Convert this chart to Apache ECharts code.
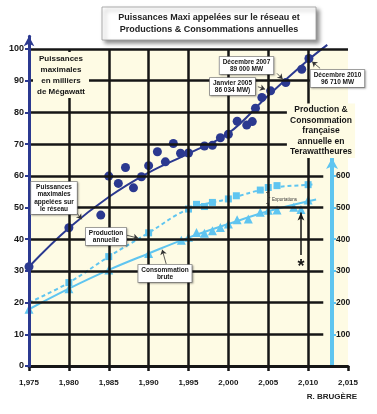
<!DOCTYPE html>
<html>
<head>
<meta charset="utf-8">
<script src="https://cdn.jsdelivr.net/npm/echarts@6/dist/echarts.min.js"></script>
<style>
  html, body { margin: 0; padding: 0; background: #fff; }
  #chart { width: 377px; height: 414px; }
</style>
</head>
<body>
<div id="chart"></div>
<script>
// Puissances maxi appelées sur le réseau (milliers de MW)
const powerYears = [1975, 1980, 1984, 1985, 1986.2, 1987.1, 1988.1, 1989.1, 1990, 1991.1, 1992.1, 1993.1, 1994, 1995,
    1997, 1998, 1999, 2000, 2001.1, 2002.3, 2003, 2003.4, 2004.2, 2005.3, 2007.2, 2009.2, 2010.1];
const powerValues = [31.3, 43.6, 47.6, 59.9, 57.6, 62.6, 56.2, 59.7, 63.2, 67.6, 64.4, 70.2, 67.1, 67.2,
    69.4, 69.6, 72.0, 73.1, 77.2, 76.0, 77.1, 81.3, 84.7, 86.8, 89.4, 93.6, 97.0];
// courbe de tendance des puissances
const powerTrendYears = [1975, 1980, 1985, 1990, 1995, 2000, 2005, 2010, 2012.4];
const powerTrendValues = [31.3, 43.5, 53.3, 61, 67, 73.4, 85.3, 96.5, 101.3];

// Production annuelle (TWh)
const prodYears = [1980, 1985, 1990, 1995, 1996, 1997, 1998, 2000, 2001, 2004, 2005, 2006.1, 2010];
const prodValues = [263, 345, 420, 495, 510, 503, 516, 527, 537, 555, 563, 569, 572];
const prodTrendYears = [1975, 1980, 1985, 1990, 1995, 2000, 2005, 2010, 2010.9];
const prodTrendValues = [200, 263, 345, 420, 495, 527, 560, 572, 573];

// Consommation brute (TWh)
const consYears = [1975, 1980, 1985, 1990, 1994.1, 1995, 1996, 1997, 1998, 1999, 2000, 2001.1, 2002.5, 2004, 2005, 2006.1, 2008.2, 2009.1, 2010];
const consValues = [179, 244, 303, 355, 397, 406, 421, 419, 427, 437, 448, 461, 464, 485, 491, 492, 501, 494, 524];
const consTrendYears = [1975, 1980, 1985, 1990, 1995, 2000, 2005, 2011];
const consTrendValues = [179, 244, 303, 355, 405, 448, 488, 525];

// ticks
const leftTicks = [0, 10, 20, 30, 40, 50, 60, 70, 80, 90, 100];
const rightTicks = [100, 200, 300, 400, 500, 600];
const gridYears = [1980, 1985, 1990, 1995, 2000, 2005, 2010];

const NAVY = '#2b3990';
const SKY = '#5fc5f0';
const CREAM = '#fefbe4';
const INK = '#161616';
const FONT = '"Liberation Sans", Arial, sans-serif';

function zip(xs, ys) {
    return xs.map((x, i) => [x, ys[i]]);
}

function gridLines() {
    const lines = [];
    leftTicks.forEach(v => {
        if (v === 0) return;
        const end = v === 100 ? 2015 : 2011.9; // les lignes s'arretent avant l'axe de droite
        lines.push([{ coord: [1975, v] }, { coord: [end, v] }]);
    });
    gridYears.forEach(y => {
        lines.push([{ coord: [y, 0] }, { coord: [y, 100] }]);
    });
    return lines;
}

function box(x, y, text) {
    return {
        type: 'text',
        z: 20,
        x: x,
        y: y,
        style: {
            text: text,
            align: 'center',
            verticalAlign: 'top',
            font: 'bold 6.5px ' + FONT,
            lineHeight: 7.5,
            fill: INK,
            backgroundColor: '#fff',
            borderColor: '#888',
            borderWidth: 0.8,
            padding: [1, 3, 1, 3],
            shadowColor: 'rgba(0,0,0,0.25)',
            shadowBlur: 2,
            shadowOffsetX: 1,
            shadowOffsetY: 1
        }
    };
}

const chart = echarts.init(document.getElementById('chart'));

const option = {
    animation: false,
    backgroundColor: '#fff',
    textStyle: { fontFamily: FONT },
    grid: { left: 29, right: 29, top: 36.3, bottom: 48 },
    xAxis: {
        type: 'value',
        z: 5,
        min: 1975,
        max: 2015,
        interval: 5,
        axisLine: { lineStyle: { color: INK, width: 3 } },
        axisTick: { length: 5, lineStyle: { color: INK, width: 2.5 } },
        axisLabel: { color: INK, fontWeight: 'bold', fontSize: 8, margin: 13 },
        splitLine: { show: false }
    },
    yAxis: [{
        type: 'value',
        z: 6,
        min: 0,
        max: 104,
        interval: 10,
        axisLine: {
            show: true,
            lineStyle: { color: NAVY, width: 3 },
            symbol: ['none', 'arrow'],
            symbolSize: [8, 10]
        },
        axisTick: { show: true, customValues: leftTicks, length: 4, lineStyle: { color: NAVY, width: 2 } },
        axisLabel: { customValues: leftTicks, color: INK, fontWeight: 'bold', fontSize: 9, margin: 5 },
        splitLine: { show: false }
    }, {
        type: 'value',
        z: 6,
        position: 'right',
        offset: -16,
        min: 0,
        max: 1040,
        interval: 100,
        axisLine: { show: false },
        axisTick: { show: true, customValues: rightTicks, length: 4, lineStyle: { color: SKY, width: 2 } },
        axisLabel: { customValues: rightTicks, color: INK, fontWeight: 'bold', fontSize: 8.5, margin: 4 },
        splitLine: { show: false }
    }],
    series: [
        {
            // fond creme + quadrillage
            type: 'line',
            data: [],
            z: 1,
            silent: true,
            markArea: {
                silent: true,
                itemStyle: { color: CREAM },
                data: [[{ coord: [1975, 0] }, { coord: [2015, 100] }]]
            },
            markLine: {
                silent: true,
                symbol: 'none',
                label: { show: false },
                lineStyle: { color: INK, width: 2.5, type: 'solid' },
                data: gridLines()
            }
        },
        {
            name: 'Tendance puissances',
            type: 'line',
            z: 3,
            smooth: 0.4,
            showSymbol: false,
            lineStyle: { color: NAVY, width: 2 },
            data: zip(powerTrendYears, powerTrendValues),
            markLine: {
                silent: true,
                symbol: ['none', 'arrow'],
                symbolSize: 5,
                label: { show: false },
                lineStyle: { color: '#333', width: 0.8, type: 'solid' },
                data: [
                    [{ coord: [2003.7, 88.1] }, { coord: [2004.6, 87.3] }],
                    [{ coord: [2006.1, 92.3] }, { coord: [2006.8, 90.5] }],
                    [{ coord: [2011.5, 93.9] }, { coord: [2010.5, 96.0] }],
                    [{ coord: [1980.8, 48.9] }, { coord: [1981.6, 46.3] }],
                    [{ coord: [1987.2, 41.3] }, { coord: [1988.7, 40.3] }],
                    [{ coord: [1992.2, 32.2] }, { coord: [1991.7, 36.7] }]
                ]
            }
        },
        {
            name: 'Puissances',
            type: 'scatter',
            z: 4,
            symbolSize: 9,
            itemStyle: { color: NAVY, opacity: 1 },
            data: zip(powerYears, powerValues)
        },
        {
            name: 'Tendance production',
            type: 'line',
            yAxisIndex: 1,
            z: 3,
            smooth: 0.4,
            showSymbol: false,
            lineStyle: { color: SKY, width: 2, type: [4, 3] },
            data: zip(prodTrendYears, prodTrendValues),
            markLine: {
                silent: true,
                label: { show: false },
                data: [
                    // axe de droite (TWh)
                    [{ coord: [2013, 0], symbol: 'none' },
                     { coord: [2013, 656], symbol: 'arrow', symbolSize: [9, 11] }],
                    // fleche noire
                    [{ coord: [2009.1, 350], symbol: 'none', lineStyle: { color: INK, width: 1.5 } },
                     { coord: [2009.1, 484], symbol: 'arrow', symbolSize: [5, 8] }]
                ],
                lineStyle: { color: SKY, width: 4, type: 'solid' }
            }
        },
        {
            name: 'Production',
            type: 'scatter',
            yAxisIndex: 1,
            z: 4,
            symbol: 'rect',
            symbolSize: 7,
            itemStyle: { color: SKY, opacity: 1 },
            data: zip(prodYears, prodValues)
        },
        {
            name: 'Tendance consommation',
            type: 'line',
            yAxisIndex: 1,
            z: 3,
            smooth: 0.4,
            showSymbol: false,
            lineStyle: { color: SKY, width: 2 },
            data: zip(consTrendYears, consTrendValues)
        },
        {
            name: 'Consommation',
            type: 'scatter',
            yAxisIndex: 1,
            z: 4,
            symbol: 'triangle',
            symbolSize: 9,
            itemStyle: { color: SKY, opacity: 1 },
            data: zip(consYears, consValues)
        }
    ],
    graphic: [
        // titre
        {
            type: 'rect',
            z: 20,
            shape: { x: 102, y: 7, width: 214, height: 33 },
            style: {
                fill: '#fff',
                stroke: '#999',
                lineWidth: 0.8,
                shadowColor: 'rgba(0,0,0,0.45)',
                shadowBlur: 4,
                shadowOffsetX: 3,
                shadowOffsetY: 3
            }
        },
        {
            type: 'text',
            z: 21,
            x: 209,
            y: 11.5,
            style: {
                text: 'Puissances Maxi appelées sur le réseau et\nProductions & Consommations annuelles',
                align: 'center',
                verticalAlign: 'top',
                font: 'bold 9px ' + FONT,
                lineHeight: 12,
                fill: '#222'
            }
        },
        // textes sur fond creme
        {
            type: 'text',
            z: 20,
            x: 61,
            y: 52,
            style: {
                text: 'Puissances\nmaximales\nen milliers\nde Mégawatt',
                align: 'center',
                verticalAlign: 'top',
                font: 'bold 8px ' + FONT,
                lineHeight: 11,
                fill: INK,
                backgroundColor: CREAM,
                padding: [1, 4, 1, 4]
            }
        },
        {
            type: 'text',
            z: 20,
            x: 321,
            y: 103.5,
            style: {
                text: 'Production &\nConsommation\nfrançaise\nannuelle en\nTerawattheures',
                align: 'center',
                verticalAlign: 'top',
                font: 'bold 8.5px ' + FONT,
                lineHeight: 10.5,
                fill: INK,
                backgroundColor: CREAM,
                padding: [1, 3, 1, 3]
            }
        },
        box(246.5, 57, 'Décembre 2007\n89 000 MW'),
        box(232.5, 78, 'Janvier 2005\n86 034 MW)'),
        box(337.5, 70, 'Décembre 2010\n96 710 MW'),
        box(54, 182, 'Puissances\nmaximales\nappelées sur\nle réseau'),
        box(106, 228, 'Production\nannuelle'),
        box(165, 265, 'Consommation\nbrute'),
        // exportations
        {
            type: 'text',
            z: 20,
            x: 266,
            y: 191,
            style: { text: '}', font: '13px ' + FONT, fill: '#333', verticalAlign: 'top' }
        },
        {
            type: 'text',
            z: 20,
            x: 272,
            y: 197,
            style: { text: 'Exportations', font: '4.5px ' + FONT, fill: '#333', verticalAlign: 'top' }
        },
        {
            type: 'text',
            z: 20,
            x: 301,
            y: 267,
            style: { text: '*', font: 'bold 18px ' + FONT, fill: INK, align: 'center', verticalAlign: 'middle' }
        },
        {
            type: 'text',
            z: 20,
            x: 357,
            y: 397,
            style: { text: 'R. BRUGÈRE', font: 'bold 8px ' + FONT, fill: '#222', align: 'right', verticalAlign: 'middle' }
        }
    ]
};

chart.setOption(option);
</script>
</body>
</html>
